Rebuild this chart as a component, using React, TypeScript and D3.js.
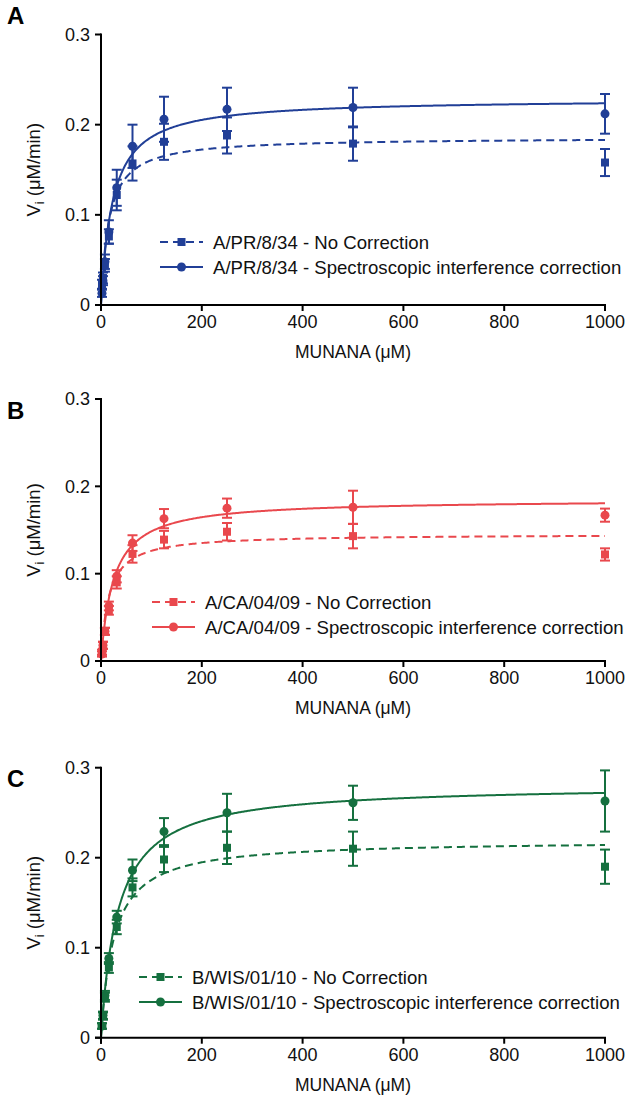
import React from "react";
import * as d3 from "d3";

// ---- Data ----
const concentrations = [1.95, 3.91, 7.81, 15.63, 31.25, 62.5, 125, 250, 500, 1000];
const xTicks = [0, 200, 400, 600, 800, 1000];
const yTicks = [0, 0.1, 0.2, 0.3];

// Panel A: A/PR/8/34
const prNoCorr = [0.023, 0.030, 0.044, 0.076, 0.122, 0.157, 0.181, 0.188, 0.179, 0.158];
const prNoCorrErr = [0.005, 0.006, 0.007, 0.008, 0.017, 0.019, 0.020, 0.020, 0.019, 0.015];
const prCorr = [0.013, 0.027, 0.048, 0.081, 0.130, 0.176, 0.206, 0.217, 0.219, 0.212];
const prCorrErr = [0.004, 0.005, 0.008, 0.013, 0.020, 0.024, 0.025, 0.024, 0.022, 0.022];
const prFitNoCorr = { vmax: 0.1859, km: 15.7 };
const prFitCorr = { vmax: 0.2288, km: 22.9 };

// Panel B: A/CA/04/09
const caNoCorr = [0.010, 0.018, 0.034, 0.058, 0.090, 0.1226, 0.139, 0.148, 0.143, 0.122];
const caNoCorrErr = [0.003, 0.004, 0.004, 0.005, 0.007, 0.010, 0.010, 0.010, 0.014, 0.007];
const caCorr = [0.008, 0.018, 0.034, 0.063, 0.097, 0.135, 0.163, 0.175, 0.176, 0.167];
const caCorrErr = [0.003, 0.004, 0.004, 0.005, 0.007, 0.009, 0.011, 0.011, 0.019, 0.0075];
const caFitNoCorr = { vmax: 0.1454, km: 15.3 };
const caFitCorr = { vmax: 0.185, km: 24.7 };

// Panel C: B/WIS/01/10
const wisNoCorr = [0.013, 0.024, 0.045, 0.078, 0.123, 0.167, 0.198, 0.211, 0.210, 0.190];
const wisNoCorrErr = [0.003, 0.004, 0.005, 0.006, 0.008, 0.010, 0.014, 0.018, 0.019, 0.019];
const wisCorr = [0.013, 0.025, 0.047, 0.088, 0.134, 0.186, 0.229, 0.250, 0.261, 0.263];
const wisCorrErr = [0.003, 0.004, 0.005, 0.006, 0.007, 0.012, 0.015, 0.021, 0.019, 0.034];
const wisFitNoCorr = { vmax: 0.2195, km: 25.3 };
const wisFitCorr = { vmax: 0.2811, km: 33.6 };

const strains = ["A/PR/8/34", "A/CA/04/09", "B/WIS/01/10"];
const letters = ["A", "B", "C"];
const colors = ["#213f97", "#e9484d", "#15703f"];

// ---- Layout ----
const W = 631;
const H = 1104;
const FONT = "'Liberation Sans', Arial, Helvetica, sans-serif";
const X0 = 101;
const X1 = 605;
const LEG_FONT = 18.6;

const panels = [
  { top: 34.5, bottom: 305, letterY: 24, legRight: 625, legY: 242, noCorr: prNoCorr, noCorrErr: prNoCorrErr, corr: prCorr, corrErr: prCorrErr, fitN: prFitNoCorr, fitC: prFitCorr },
  { top: 399, bottom: 661, letterY: 419, legRight: 625, legY: 602, noCorr: caNoCorr, noCorrErr: caNoCorrErr, corr: caCorr, corrErr: caCorrErr, fitN: caFitNoCorr, fitC: caFitCorr },
  { top: 767.7, bottom: 1037.7, letterY: 787, legRight: 626, legY: 977, noCorr: wisNoCorr, noCorrErr: wisNoCorrErr, corr: wisCorr, corrErr: wisCorrErr, fitN: wisFitNoCorr, fitC: wisFitCorr },
];

const fitXs = d3.range(0, 1000.001, 2);

function Panel({ p, i }: { p: any; i: number }) {
  const color = colors[i];
  const x = d3.scaleLinear().domain([0, 1000]).range([X0, X1]);
  const y = d3.scaleLinear().domain([0, 0.3]).range([p.bottom, p.top]);
  const line = d3.line<number>().x((d) => x(d));
  const fitPath = (f: { vmax: number; km: number }) =>
    line.y((d) => y((f.vmax * d) / (f.km + d)))(fitXs) as string;
  const tick = 6;
  const capW = 5;
  const midY = (p.top + p.bottom) / 2;
  const legTextX = p.legRight;
  const legLineEnd = 0; // relative, computed below via text-anchor end

  const errBars = (vals: number[], errs: number[]) =>
    concentrations.map((c, k) => (
      <g key={k}>
        <line x1={x(c)} x2={x(c)} y1={y(vals[k] - errs[k])} y2={y(vals[k] + errs[k])} stroke={color} strokeWidth={2} />
        <line x1={x(c) - capW} x2={x(c) + capW} y1={y(vals[k] + errs[k])} y2={y(vals[k] + errs[k])} stroke={color} strokeWidth={2} />
        <line x1={x(c) - capW} x2={x(c) + capW} y1={y(vals[k] - errs[k])} y2={y(vals[k] - errs[k])} stroke={color} strokeWidth={2} />
      </g>
    ));

  // legend positions: text is right-anchored at legRight; sample starts left of text
  const longLabel = `${strains[i]} - Spectroscopic interference correction`;
  const approxW = [412, 420, 434][i];
  const textStart = legTextX - approxW;
  const lx = textStart - 53;

  return (
    <g>
      <text x={7} y={p.letterY} fontSize={24} fontWeight="bold" fontFamily={FONT}>
        {letters[i]}
      </text>

      <path d={fitPath(p.fitN)} fill="none" stroke={color} strokeWidth={2} strokeDasharray="8,5" />
      <path d={fitPath(p.fitC)} fill="none" stroke={color} strokeWidth={2} />

      {errBars(p.noCorr, p.noCorrErr)}
      {errBars(p.corr, p.corrErr)}

      {concentrations.map((c, k) => (
        <rect key={"s" + k} x={x(c) - 4} y={y(p.noCorr[k]) - 4} width={8} height={8} fill={color} />
      ))}
      {concentrations.map((c, k) => (
        <circle key={"c" + k} cx={x(c)} cy={y(p.corr[k])} r={4.5} fill={color} />
      ))}

      <line x1={X0 - tick} x2={X1 + 1} y1={p.bottom} y2={p.bottom} stroke="#000" strokeWidth={2} />
      <line x1={X0} x2={X0} y1={p.top - 1} y2={p.bottom + tick} stroke="#000" strokeWidth={2} />
      {xTicks.map((t) => (
        <g key={"xt" + t}>
          <line x1={x(t)} x2={x(t)} y1={p.bottom} y2={p.bottom + tick} stroke="#000" strokeWidth={2} />
          <text x={x(t)} y={p.bottom + 23} textAnchor="middle" fontSize={18} fontFamily={FONT} fill="#111">
            {t}
          </text>
        </g>
      ))}
      {yTicks.map((t) => (
        <g key={"yt" + t}>
          <line x1={X0 - tick} x2={X0} y1={y(t)} y2={y(t)} stroke="#000" strokeWidth={2} />
          <text x={X0 - 11} y={y(t)} dy="0.35em" textAnchor="end" fontSize={18} fontFamily={FONT} fill="#111">
            {d3.format("")(t)}
          </text>
        </g>
      ))}
      <text x={(X0 + X1) / 2} y={p.bottom + 53} textAnchor="middle" fontSize={17.5} fontFamily={FONT} fill="#111">
        MUNANA (μM)
      </text>
      <text transform={`translate(40,${midY}) rotate(-90)`} textAnchor="middle" fontSize={18.5} fontFamily={FONT} fill="#111">
        V<tspan fontSize={12.5} dy={4}>i</tspan>
        <tspan dy={-4}> (μM/min)</tspan>
      </text>

      <g>
        <line x1={lx} x2={lx + 43} y1={p.legY} y2={p.legY} stroke={color} strokeWidth={2} strokeDasharray="8,5" />
        <rect x={lx + 21.5 - 4} y={p.legY - 4} width={8} height={8} fill={color} />
        <text x={textStart} y={p.legY} dy="0.35em" fontSize={LEG_FONT} fontFamily={FONT} fill="#111">
          {strains[i]} - No Correction
        </text>
        <line x1={lx} x2={lx + 43} y1={p.legY + 25} y2={p.legY + 25} stroke={color} strokeWidth={2} />
        <circle cx={lx + 21.5} cy={p.legY + 25} r={4.5} fill={color} />
        <text x={textStart} y={p.legY + 25} dy="0.35em" fontSize={LEG_FONT} fontFamily={FONT} fill="#111">
          {longLabel}
        </text>
      </g>
    </g>
  );
}

export default function App() {
  return (
    <svg
      width={W}
      height={H}
      viewBox={`0 0 ${W} ${H}`}
      style={{ position: "absolute", left: 0, top: 0, background: "#fff" }}
    >
      <rect width={W} height={H} fill="#fff" />
      {panels.map((p, i) => (
        <Panel key={i} p={p} i={i} />
      ))}
    </svg>
  );
}
